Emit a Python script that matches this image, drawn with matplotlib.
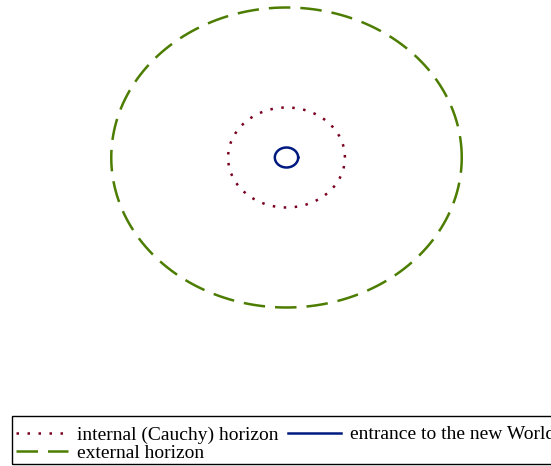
import numpy as np
import matplotlib
matplotlib.use("Agg")
import matplotlib.pyplot as plt
from matplotlib.patches import Rectangle

# horizon radii (data units) and labels
labels = ["internal (Cauchy) horizon", "external horizon", "entrance to the new World"]
radii = [1.0, 3.0, 0.2]
colors = ["#7a0020", "#4c7d00", "#001a80"]
styles = [(0, (1, 3.4)), (0, (8.6, 4.0)), "-"]

plt.rcParams["font.family"] = ["Liberation Serif", "DejaVu Serif"]

fig = plt.figure(figsize=(5.51, 4.66), dpi=100)
ax = fig.add_axes([109.5 / 551, 157 / 466, 354 / 551, 303 / 466])

t = np.linspace(0, 2 * np.pi, 400)
handles = []
for r, c, ls, lab in zip(radii, colors, styles, labels):
    (h,) = ax.plot(r * np.cos(t), r * np.sin(t), color=c, linestyle=ls, lw=1.8, label=lab)
    handles.append(h)

ax.set_xlim(-3.03, 3.03)
ax.set_ylim(-3.03, 3.03)
ax.axis("off")

fig.legend(handles=handles, loc="lower left", bbox_to_anchor=(12 / 551, 0),
           ncol=2, fontsize=14, frameon=False, borderpad=0.2,
           handlelength=2.7, handletextpad=0.45, columnspacing=0.5,
           labelspacing=0.05, borderaxespad=0)

# legend frame, runs off the right edge like the original
fig.patches.append(Rectangle((12 / 551, 2 / 466), 0.99, 48 / 466, transform=fig.transFigure,
                             fill=False, edgecolor="black", lw=1.0))

fig.savefig("out.png", dpi=100)
